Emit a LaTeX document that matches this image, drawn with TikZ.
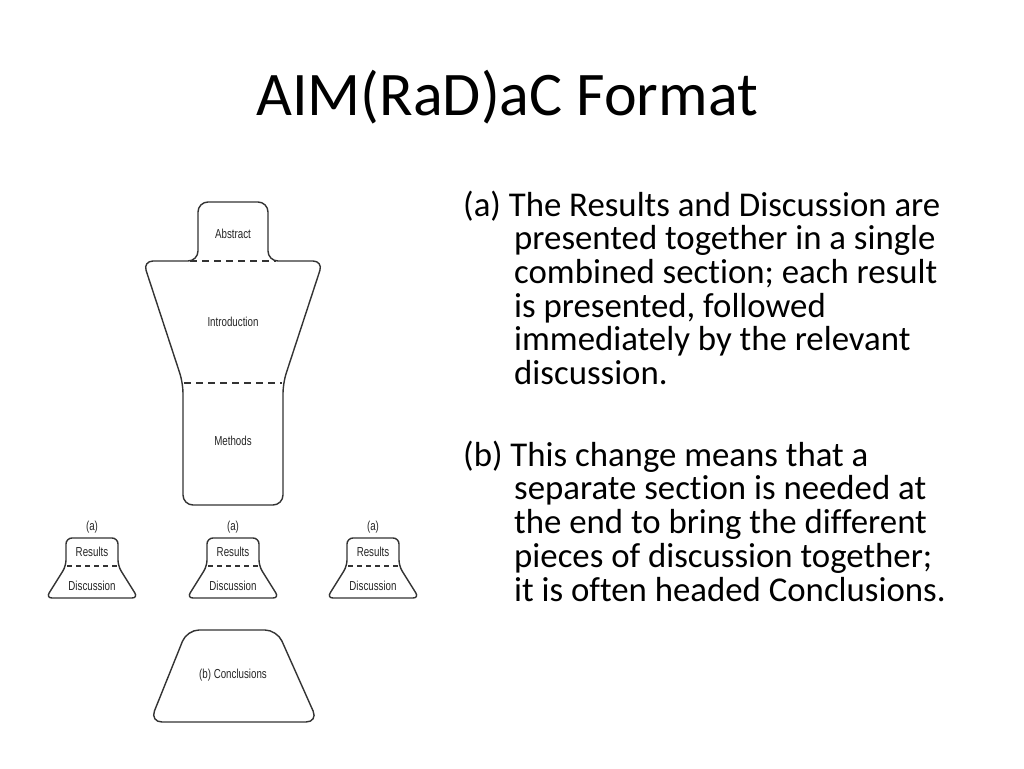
\documentclass[tikz,border=0pt]{standalone}
\usepackage{fontspec}
\setmainfont[Ligatures={NoCommon,NoRequired}]{Carlito}
\newfontfamily\diagfont[FakeStretch=0.75]{Liberation Sans}
\begin{document}
\begin{tikzpicture}[x=1pt,y=-1pt,
  outline/.style={draw=black!80, line width=1.4pt, rounded corners=10pt},
  divider/.style={draw=black!80, line width=1.4pt, dash pattern=on 7pt off 5pt},
  lbl/.style={font=\diagfont\fontsize{13}{15}\selectfont, text=black!85, inner sep=0pt},
  body/.style={font=\fontsize{34.8}{40}\selectfont, anchor=base west, inner sep=0pt},
]
\useasboundingbox[fill=white] (0,0) rectangle (1024,768);

\node[anchor=base west, inner sep=0pt, font=\fontsize{62}{70}\selectfont] (title) at (256,115) {AIM(RaD)aC Format};

% main shape
\draw[outline] (233,202) -- (268,202) -- (268,261) -- (323,261) -- (283,383) -- (283,505) -- (183,505) -- (183,383) -- (143,261) -- (198,261) -- (198,202) -- cycle;
\draw[divider] (190,261) -- (276,261);
\draw[divider] (184,383) -- (282,383);
\node[lbl] (abstract) at (233,234) {Abstract};
\node[lbl] (intro) at (233,322) {Introduction};
\node[lbl] (methods) at (233,441) {Methods};

% results/discussion shapes
\foreach \cx/\n in {92/1,233/2,373/3}{
  \draw[outline, rounded corners=6pt] (\cx,538) -- (\cx+26,538) -- (\cx+26,566) -- (\cx+46,598) -- (\cx-46,598) -- (\cx-26,566) -- (\cx-26,538) -- cycle;
  \draw[divider, dash pattern=on 5pt off 4pt] (\cx-25,566) -- (\cx+25,566);
  \node[lbl] (a\n) at (\cx,527) {(a)};
  \node[lbl] (res\n) at (\cx,552) {Results};
  \node[lbl] (disc\n) at (\cx,586) {Discussion};
}

% conclusions
\draw[outline, rounded corners=12pt] (233,630) -- (277,630) -- (318,722) -- (150,722) -- (187,630) -- cycle;
\node[lbl] (concl) at (233,675) {(b) Conclusions};

% body text
\node[body] (pa1) at (463,216) {(a) The Results and Discussion are};
\node[body] (pa2) at (514,249.7) {presented together in a single};
\node[body] (pa3) at (514,283.4) {combined section; each result};
\node[body] (pa4) at (514,317.1) {is presented, followed};
\node[body] (pa5) at (514,350.8) {immediately by the relevant};
\node[body] (pa6) at (514,384.5) {discussion.};

\node[body] (pb1) at (463,466) {(b) This change means that a};
\node[body] (pb2) at (514,499.9) {separate section is needed at};
\node[body] (pb3) at (514,533.8) {the end to bring the different};
\node[body] (pb4) at (514,567.7) {pieces of discussion together;};
\node[body] (pb5) at (514,601.6) {it is often headed Conclusions.};
\end{tikzpicture}
\end{document}
